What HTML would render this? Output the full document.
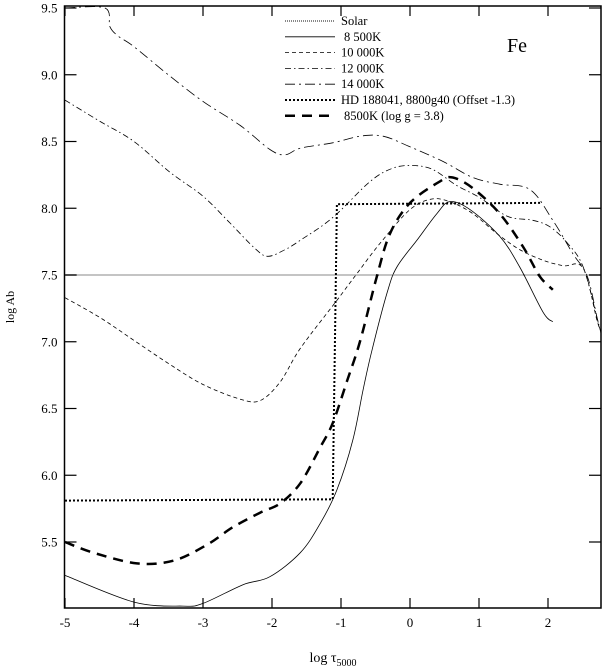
<!DOCTYPE html>
<html><head><meta charset="utf-8"><style>
body{margin:0;background:#fff}
svg{display:block;font-family:"Liberation Serif",serif}
</style></head><body>
<svg id="c" width="602" height="667" viewBox="0 0 602 667" xmlns="http://www.w3.org/2000/svg">
<defs><clipPath id="clip"><rect x="64.5" y="6" width="536.5" height="602"/></clipPath></defs>
<g id="plot" clip-path="url(#clip)"></g>
<g id="axes"></g>
<g id="legend"></g>
<text x="507" y="52" font-size="20">Fe</text>
<text transform="translate(14,307) rotate(-90)" text-anchor="middle" font-size="12">log Ab</text>
<text x="333" y="662" text-anchor="middle" font-size="14">log τ<tspan font-size="10" dy="4">5000</tspan></text>
</svg>
<script>
const xTicks=[-5,-4,-3,-2,-1,0,1,2];
const xTickLabels=["-5","-4","-3","-2","-1","0","1","2"];
const yTicks=[5.5,6.0,6.5,7.0,7.5,8.0,8.5,9.0,9.5];
const yTickLabels=["5.5","6.0","6.5","7.0","7.5","8.0","8.5","9.0","9.5"];
const solarVal=7.5;
const t8500=[-5.0,-4.0,-3.29,-3.0,-2.42,-2.03,-1.59,-1.30,-1.06,-0.83,-0.68,-0.55,-0.33,-0.19,0.10,0.39,0.58,0.87,1.30,1.59,1.93,2.07];
const v8500=[5.25,5.05,5.02,5.04,5.18,5.24,5.42,5.64,5.89,6.26,6.64,6.94,7.37,7.56,7.76,7.96,8.05,7.99,7.79,7.56,7.22,7.15];
const t10000=[-5,-4.49,-4.0,-3.48,-3.0,-2.46,-2.17,-1.88,-1.59,-1.06,-0.77,-0.43,0,0.33,0.62,0.91,1.26,1.59,1.93,2.22,2.51,2.71,2.77];
const v10000=[7.33,7.18,7.01,6.83,6.68,6.57,6.56,6.70,6.95,7.31,7.51,7.74,7.99,8.07,8.04,7.96,7.81,7.69,7.61,7.57,7.55,7.16,7.08];
const t12000=[-5,-4.49,-4.0,-3.48,-3.0,-2.61,-2.25,-2.06,-1.81,-1.59,-1.12,-0.58,-0.25,0.04,0.33,0.68,1.01,1.41,1.78,2.03,2.28,2.51,2.72,2.8];
const v12000=[8.81,8.65,8.50,8.27,8.09,7.89,7.70,7.64,7.69,7.76,7.93,8.20,8.30,8.32,8.29,8.17,8.08,7.94,7.91,7.86,7.74,7.56,7.16,7.0];
const t14000=[-5,-4.42,-4.35,-4.23,-4.0,-3.48,-3.0,-2.46,-2.03,-1.81,-1.59,-1.12,-0.72,-0.39,0,0.48,0.91,1.30,1.74,2.07,2.36,2.57,2.72,2.8];
const v14000=[9.5,9.5,9.36,9.29,9.21,8.99,8.80,8.62,8.44,8.40,8.45,8.49,8.54,8.54,8.46,8.35,8.23,8.18,8.14,7.91,7.66,7.49,7.16,7.0];
const tHD=[-5,-1.12,-1.06,1.9];
const vHD=[5.81,5.82,8.03,8.04];
const tG38=[-5,-4.59,-3.96,-3.43,-2.94,-2.57,-2.17,-1.88,-1.59,-1.30,-1.12,-0.91,-0.72,-0.48,-0.29,0,0.43,0.62,0.91,1.30,1.64,1.88,2.07];
const vG38=[5.50,5.42,5.34,5.36,5.48,5.61,5.72,5.79,5.94,6.21,6.39,6.71,7.01,7.49,7.81,8.04,8.20,8.23,8.15,7.96,7.71,7.49,7.39];

const NS="http://www.w3.org/2000/svg";
const X=t=>410+t*69;
const Y=v=>275-(v-7.5)*133.5;
const L=64.5,R=601,T=6,B=608;
function mk(tag,attrs,parent){const e=document.createElementNS(NS,tag);for(const k in attrs)e.setAttribute(k,attrs[k]);parent.appendChild(e);return e;}
const plot=document.getElementById('plot'),axes=document.getElementById('axes'),leg=document.getElementById('legend');
const styles={
 solar:{stroke:'#888',"stroke-width":2,"stroke-dasharray":"1 1"},
 s8500:{stroke:'#000',"stroke-width":0.8},
 s10000:{stroke:'#000',"stroke-width":0.8,"stroke-dasharray":"4 3"},
 s12000:{stroke:'#000',"stroke-width":0.8,"stroke-dasharray":"6 3 1.5 3"},
 s14000:{stroke:'#000',"stroke-width":0.8,"stroke-dasharray":"10 4 2 4"},
 hd:{stroke:'#000',"stroke-width":2,"stroke-dasharray":"2 2"},
 g38:{stroke:'#000',"stroke-width":2.5,"stroke-dasharray":"10 7"}
};
function smoothPath(pts){
 let d='M'+pts[0][0].toFixed(1)+' '+pts[0][1].toFixed(1);
 for(let i=0;i<pts.length-1;i++){
  const p0=pts[i-1]||pts[i],p1=pts[i],p2=pts[i+1],p3=pts[i+2]||p2;
  const c1=[p1[0]+(p2[0]-p0[0])/6,p1[1]+(p2[1]-p0[1])/6];
  const c2=[p2[0]-(p3[0]-p1[0])/6,p2[1]-(p3[1]-p1[1])/6];
  d+=' C'+c1[0].toFixed(1)+' '+c1[1].toFixed(1)+' '+c2[0].toFixed(1)+' '+c2[1].toFixed(1)+' '+p2[0].toFixed(1)+' '+p2[1].toFixed(1);
 }
 return d;
}
function series(ts,vs,st,name,smooth){
 const pts=ts.map((t,i)=>[X(t),Y(vs[i])]);
 const d=smooth?smoothPath(pts):pts.map((p,i)=>(i?'L':'M')+p[0].toFixed(1)+' '+p[1].toFixed(1)).join(' ');
 const p=mk('path',Object.assign({d:d,fill:'none'},st),plot);
 
 
}
const sl=mk('line',Object.assign({x1:L,x2:R,y1:Y(solarVal),y2:Y(solarVal)},styles.solar),plot);


series(t8500,v8500,styles.s8500,'series-8500k',true);
series(t10000,v10000,styles.s10000,'series-10000k',true);
series(t12000,v12000,styles.s12000,'series-12000k',true);
series(t14000,v14000,styles.s14000,'series-14000k',true);
series(tHD,vHD,styles.hd,'series-hd188041',false);
series(tG38,vG38,styles.g38,'series-8500k-logg38',true);
const fr=mk('rect',{x:L,y:T,width:R-L,height:B-T,fill:'none',stroke:'#000','stroke-width':1.5},axes);


xTicks.forEach((t,i)=>{
 mk('line',{x1:X(t),x2:X(t),y1:B,y2:B-10,stroke:'#000','stroke-width':1.2},axes);
 mk('line',{x1:X(t),x2:X(t),y1:T,y2:T+10,stroke:'#000','stroke-width':1.2},axes);
 const tx=mk('text',{x:X(t),y:B+19,'text-anchor':'middle','font-size':13},axes);
 tx.textContent=xTickLabels[i];
 
 
});
yTicks.forEach((v,i)=>{
 mk('line',{x1:L,x2:L+12,y1:Y(v),y2:Y(v),stroke:'#000','stroke-width':1.2},axes);
 mk('line',{x1:R,x2:R-12,y1:Y(v),y2:Y(v),stroke:'#000','stroke-width':1.2},axes);
 const tx=mk('text',{x:L-7,y:Y(v)+4.5,'text-anchor':'end','font-size':13},axes);
 tx.textContent=yTickLabels[i];
 
 
});
const legItems=[['solar','Solar'],['s8500',' 8 500K'],['s10000','10 000K'],['s12000','12 000K'],['s14000','14 000K'],['hd','HD 188041, 8800g40 (Offset -1.3)'],['g38',' 8500K (log g = 3.8)']];
legItems.forEach((it,i)=>{
 const y=21+i*15.8;
 const g=mk('g',{},leg);
 
 
 mk('line',Object.assign({x1:285,x2:335,y1:y,y2:y},styles[it[0]]),g);
 const tx=mk('text',{x:it[1].startsWith(' ')?344:341,y:y+4,'font-size':12.5},g);
 tx.textContent=it[1].trim();
});
</script>
</body></html>
